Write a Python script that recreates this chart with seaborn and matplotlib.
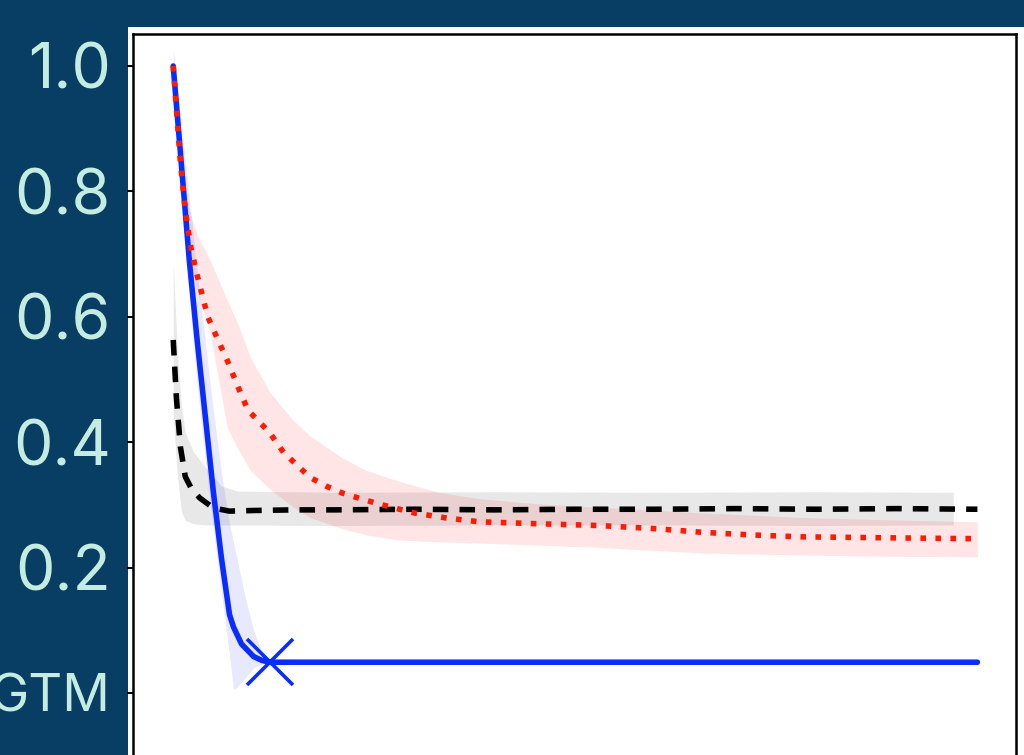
import matplotlib
matplotlib.use("Agg")
import matplotlib.pyplot as plt
from matplotlib.patches import Rectangle
import seaborn as sns

# series (x in iterations, y normalised)
blue_x = [0, 1, 2, 3, 4, 5, 6, 7, 7.5, 8.5, 10, 11, 12, 100]
blue_y = [1.0, 0.845, 0.69, 0.56, 0.44, 0.32, 0.215, 0.125, 0.105, 0.078, 0.058, 0.052, 0.049, 0.049]
blue_band_x = [0, 1, 2, 3, 4, 5, 6, 7, 7.5, 8, 9, 10, 11, 12]
blue_lo = [0.98, 0.80, 0.63, 0.49, 0.37, 0.26, 0.16, 0.06, 0.005, 0.01, 0.025, 0.04, 0.046, 0.049]
blue_hi = [1.025, 0.91, 0.79, 0.67, 0.56, 0.45, 0.35, 0.27, 0.24, 0.21, 0.15, 0.10, 0.065, 0.05]

red_x = [0, 0.9, 1.5, 2.2, 3, 4.3, 5.5, 6.7, 8, 9.3, 10.5, 12, 13.7, 15.5, 17, 19, 21,
         23.5, 26, 30, 34, 38, 45, 53, 60, 66, 72, 78, 85, 92, 100]
red_y = [1.0, 0.845, 0.77, 0.71, 0.665, 0.60, 0.565, 0.531, 0.49, 0.451, 0.435, 0.415,
         0.384, 0.362, 0.344, 0.33, 0.319, 0.309, 0.30, 0.287, 0.279, 0.273, 0.27, 0.267,
         0.262, 0.256, 0.252, 0.249, 0.248, 0.247, 0.246]
red_band_x = [0, 1, 2, 3, 4.6, 6.7, 8, 9.6, 12, 14.9, 17, 21, 24, 28, 33, 38, 45, 53,
              66, 78, 89, 100]
red_hi = [1.0, 0.85, 0.77, 0.73, 0.69, 0.627, 0.59, 0.535, 0.48, 0.435, 0.41, 0.375,
          0.355, 0.338, 0.32, 0.31, 0.302, 0.296, 0.287, 0.28, 0.276, 0.273]
red_lo = [0.99, 0.82, 0.70, 0.64, 0.574, 0.424, 0.39, 0.355, 0.325, 0.297, 0.28, 0.262,
          0.252, 0.244, 0.241, 0.239, 0.236, 0.232, 0.223, 0.22, 0.218, 0.217]

black_x = [0, 0.4, 0.9, 1.5, 2.3, 3.3, 5, 7, 10, 15, 20, 30, 40, 50, 60, 70, 80, 90, 100]
black_y = [0.563, 0.47, 0.392, 0.345, 0.325, 0.311, 0.295, 0.29, 0.291, 0.292, 0.292,
           0.293, 0.292, 0.293, 0.293, 0.294, 0.293, 0.294, 0.293]
gray_x = [0, 0.5, 1, 1.5, 2.5, 4, 6, 8, 20, 40, 60, 80, 97]
gray_hi = [0.687, 0.55, 0.46, 0.415, 0.385, 0.36, 0.33, 0.322, 0.32, 0.321, 0.32, 0.321, 0.32]
gray_lo = [0.44, 0.35, 0.29, 0.275, 0.27, 0.268, 0.268, 0.268, 0.267, 0.268, 0.268, 0.267, 0.268]

best_x = [12]
best_y = [0.049]

ytick_pos = [0.0, 0.2, 0.4, 0.6, 0.8, 1.0]
ytick_labels = ["GTM", "0.2", "0.4", "0.6", "0.8", "1.0"]

navy = "#083e64"
mint = "#c4ece0"
blue = "#0a2dff"
red = "#ff1a00"

sns.set_style("ticks")
plt.rcParams["font.family"] = ["Inter", "DejaVu Sans"]

fig = plt.figure(figsize=(10.24, 7.55), dpi=100, facecolor=navy)
# white backdrop of the pasted chart image
fig.patches.append(Rectangle((128 / 1024, 0), 1, 1 - 27 / 755,
                             transform=fig.transFigure, facecolor="white",
                             edgecolor="none", zorder=-5))
ax = fig.add_axes([133 / 1024, -0.005, (1016 - 133) / 1024, 1 - 34 / 755 + 0.005])
ax.set_zorder(1)
ax.set_facecolor("white")

ax.fill_between(gray_x, gray_lo, gray_hi, color="black", alpha=0.09, lw=0)
ax.fill_between(red_band_x, red_lo, red_hi, color="red", alpha=0.1, lw=0)
ax.fill_between(blue_band_x, blue_lo, blue_hi, color="blue", alpha=0.09, lw=0)

sns.lineplot(x=blue_x, y=blue_y, ax=ax, color=blue, linewidth=4, sort=False)
sns.lineplot(x=black_x, y=black_y, ax=ax, color="black", linewidth=4, sort=False,
             linestyle=(0, (2.8, 2.0)))
sns.lineplot(x=red_x, y=red_y, ax=ax, color=red, linewidth=4, sort=False,
             linestyle=(0, (1, 1.7)))
ax.plot(best_x, best_y, marker="x", ms=33, mew=2.6, color=blue, linestyle="none")

ax.set_xlim(-5, 104.8)
ax.set_ylim(-0.105, 1.051)
ax.set_yticks(ytick_pos)
ax.set_yticklabels(ytick_labels)
ax.tick_params(axis="y", direction="out", length=4, width=1.5, pad=12,
               labelsize=45, labelcolor=mint, color="black")
ax.get_yticklabels()[0].set_fontsize(38)
ax.set_xticks([])
for s in ax.spines.values():
    s.set_linewidth(1.8)
    s.set_color("black")

fig.savefig("out.png", dpi=100, facecolor=navy)
